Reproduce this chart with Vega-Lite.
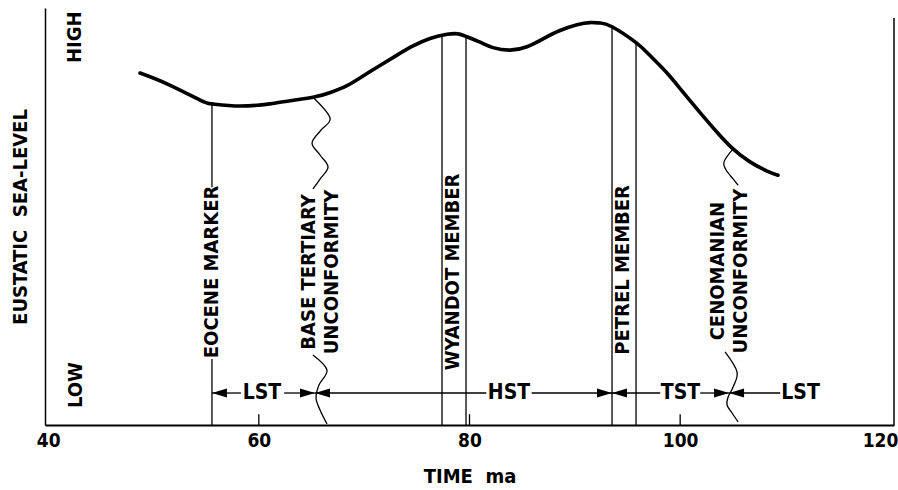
{
  "$schema": "https://vega.github.io/schema/vega-lite/v6.json",
  "autosize": "none",
  "width": 849,
  "height": 417,
  "padding": {"left": 45, "top": 8, "right": 4, "bottom": 65},
  "background": "white",
  "config": {
    "view": {"stroke": null},
    "font": "DejaVu Sans Condensed, DejaVu Sans, sans-serif",
    "text": {"font": "DejaVu Sans Condensed, DejaVu Sans, sans-serif", "fontWeight": "bold", "color": "black"}
  },
  "datasets": {
    "sealevel": [
      {"t": 48.72, "v": 84.4}, {"t": 51.28, "v": 81.8}, {"t": 54.42, "v": 77.9},
      {"t": 55.55, "v": 77.0}, {"t": 58.21, "v": 76.5}, {"t": 61.06, "v": 77.0},
      {"t": 62.01, "v": 77.4}, {"t": 65.14, "v": 78.6}, {"t": 66.76, "v": 79.7},
      {"t": 68.37, "v": 81.4}, {"t": 69.89, "v": 83.7}, {"t": 71.5, "v": 86.2},
      {"t": 73.12, "v": 88.7}, {"t": 74.64, "v": 90.9}, {"t": 76.25, "v": 92.7},
      {"t": 77.87, "v": 93.7}, {"t": 78.91, "v": 93.8}, {"t": 79.67, "v": 93.2},
      {"t": 81.0, "v": 91.8}, {"t": 82.23, "v": 90.5}, {"t": 83.85, "v": 89.9},
      {"t": 85.46, "v": 90.7}, {"t": 86.98, "v": 92.6}, {"t": 88.59, "v": 94.6},
      {"t": 90.21, "v": 96.0}, {"t": 91.44, "v": 96.5}, {"t": 92.39, "v": 96.4},
      {"t": 93.53, "v": 95.5}, {"t": 95.81, "v": 91.7}, {"t": 97.14, "v": 88.6},
      {"t": 98.75, "v": 84.4}, {"t": 100.27, "v": 79.8}, {"t": 101.89, "v": 74.9},
      {"t": 103.5, "v": 70.2}, {"t": 105.02, "v": 66.2}, {"t": 106.63, "v": 63.1},
      {"t": 108.25, "v": 60.9}, {"t": 109.29, "v": 59.9}
    ],
    "markers": [
      {"name": "Eocene marker", "t": 55.55, "v": 57.0, "v2": 77.0},
      {"name": "Eocene marker", "t": 55.55, "v": 0, "v2": 15.8},
      {"name": "Wyandot base", "t": 77.39, "v": 0, "v2": 93.5},
      {"name": "Wyandot top", "t": 79.67, "v": 0, "v2": 93.2},
      {"name": "Petrel base", "t": 93.53, "v": 0, "v2": 95.5},
      {"name": "Petrel top", "t": 95.81, "v": 0, "v2": 91.7}
    ],
    "frame": [
      {"t": 120.3, "v": 0, "v2": 97.6}
    ],
    "ticks": [
      {"t": 60, "v": 0, "v2": 2.6},
      {"t": 80, "v": 0, "v2": 2.6},
      {"t": 100, "v": 0, "v2": 2.6}
    ],
    "unconformities": [
      {"id": "bt-upper", "seq": 0, "t": 65.14, "v": 78.6},
      {"id": "bt-upper", "seq": 1, "t": 66.76, "v": 73.62},
      {"id": "bt-upper", "seq": 2, "t": 65.9, "v": 70.74},
      {"id": "bt-upper", "seq": 3, "t": 65.05, "v": 67.63},
      {"id": "bt-upper", "seq": 4, "t": 65.81, "v": 64.75},
      {"id": "bt-upper", "seq": 5, "t": 66.57, "v": 61.87},
      {"id": "bt-upper", "seq": 6, "t": 65.81, "v": 58.99},
      {"id": "bt-upper", "seq": 7, "t": 65.14, "v": 56.6},
      {"id": "bt-lower", "seq": 0, "t": 65.14, "v": 16.79},
      {"id": "bt-lower", "seq": 1, "t": 66.47, "v": 13.19},
      {"id": "bt-lower", "seq": 2, "t": 65.71, "v": 9.59},
      {"id": "bt-lower", "seq": 3, "t": 65.43, "v": 6.47},
      {"id": "bt-lower", "seq": 4, "t": 65.81, "v": 3.6},
      {"id": "bt-lower", "seq": 5, "t": 66.47, "v": 0.24},
      {"id": "cen-upper", "seq": 0, "t": 105.02, "v": 66.2},
      {"id": "cen-upper", "seq": 1, "t": 104.16, "v": 63.1},
      {"id": "cen-upper", "seq": 2, "t": 104.35, "v": 61.2},
      {"id": "cen-upper", "seq": 3, "t": 105.02, "v": 59.0},
      {"id": "cen-upper", "seq": 4, "t": 105.5, "v": 57.5},
      {"id": "cen-lower", "seq": 0, "t": 104.26, "v": 17.51},
      {"id": "cen-lower", "seq": 1, "t": 105.4, "v": 12.71},
      {"id": "cen-lower", "seq": 2, "t": 105.02, "v": 9.11},
      {"id": "cen-lower", "seq": 3, "t": 104.55, "v": 6.71},
      {"id": "cen-lower", "seq": 4, "t": 104.45, "v": 4.8},
      {"id": "cen-lower", "seq": 5, "t": 104.93, "v": 2.88},
      {"id": "cen-lower", "seq": 6, "t": 105.5, "v": 0.72}
    ],
    "tractLines": [
      {"t": 55.55, "t2": 58.3, "v": 7.67},
      {"t": 62.4, "t2": 65.33, "v": 7.67},
      {"t": 65.33, "t2": 81.6, "v": 7.67},
      {"t": 85.9, "t2": 93.53, "v": 7.67},
      {"t": 93.53, "t2": 98.1, "v": 7.67},
      {"t": 101.9, "t2": 104.64, "v": 7.67},
      {"t": 104.64, "t2": 109.5, "v": 7.67}
    ],
    "arrowsLeft": [
      {"t": 55.55, "v": 7.67}, {"t": 65.33, "v": 7.67},
      {"t": 93.53, "v": 7.67}, {"t": 104.64, "v": 7.67}
    ],
    "arrowsRight": [
      {"t": 65.33, "v": 7.67}, {"t": 93.53, "v": 7.67}, {"t": 104.64, "v": 7.67}
    ],
    "tracts": [
      {"t": 60.3, "v": 7.67, "label": "LST"},
      {"t": 83.75, "v": 7.67, "label": "HST"},
      {"t": 100.03, "v": 7.67, "label": "TST"},
      {"t": 111.43, "v": 7.67, "label": "LST"}
    ],
    "horizons": [
      {"t": 55.55, "v": 36.7, "label": "EOCENE MARKER"},
      {"t": 64.72, "v": 36.7, "label": "BASE TERTIARY\nUNCONFORMITY"},
      {"t": 78.48, "v": 36.7, "label": "WYANDOT MEMBER"},
      {"t": 94.62, "v": 37.2, "label": "PETREL MEMBER"},
      {"t": 103.55, "v": 36.9, "label": "CENOMANIAN\nUNCONFORMITY"}
    ],
    "levels": [
      {"t": 42.55, "v": 93.0, "label": "HIGH"},
      {"t": 42.64, "v": 9.6, "label": "LOW"}
    ]
  },
  "encoding": {
    "x": {
      "field": "t", "type": "quantitative",
      "scale": {"domain": [39.7, 120.3], "nice": false, "zero": false},
      "axis": {
        "values": [40, 60, 80, 100, 120],
        "grid": false, "ticks": false,
        "domainColor": "black", "domainWidth": 2,
        "labelFont": "DejaVu Sans Condensed, DejaVu Sans, sans-serif",
        "labelFontSize": 19, "labelFontWeight": "bold", "labelColor": "black",
        "labelPadding": 6, "labelOverlap": false, "labelFlush": false,
        "labelAlign": {"condition": {"test": "datum.value >= 120", "value": "right"}, "value": "center"},
        "labelOffset": {"condition": {"test": "datum.value >= 120", "value": 7}, "value": 0},
        "title": "TIME\u00a0\u00a0ma",
        "titleFont": "DejaVu Sans Condensed, DejaVu Sans, sans-serif",
        "titleFontSize": 20, "titleFontWeight": "bold", "titleColor": "black",
        "titlePadding": 16
      }
    },
    "y": {
      "field": "v", "type": "quantitative",
      "scale": {"domain": [0, 100], "nice": false},
      "axis": {
        "grid": false, "ticks": false, "labels": false,
        "domainColor": "black", "domainWidth": 1.5,
        "title": "EUSTATIC\u00a0 SEA-LEVEL",
        "titleFont": "DejaVu Sans Condensed, DejaVu Sans, sans-serif",
        "titleFontSize": 20, "titleFontWeight": "bold", "titleColor": "black",
        "titlePadding": 15
      }
    }
  },
  "layer": [
    {
      "data": {"name": "ticks"},
      "mark": {"type": "rule", "color": "black", "strokeWidth": 1.3},
      "encoding": {"y2": {"field": "v2"}}
    },
    {
      "data": {"name": "markers"},
      "mark": {"type": "rule", "color": "black", "strokeWidth": 1.3},
      "encoding": {"y2": {"field": "v2"}}
    },
    {
      "data": {"name": "frame"},
      "mark": {"type": "rule", "color": "black", "strokeWidth": 1.5},
      "encoding": {"y2": {"field": "v2"}}
    },
    {
      "data": {"name": "unconformities"},
      "mark": {"type": "line", "color": "black", "strokeWidth": 1.3, "interpolate": "cardinal"},
      "encoding": {
        "detail": {"field": "id"},
        "order": {"field": "seq", "type": "quantitative"}
      }
    },
    {
      "data": {"name": "sealevel"},
      "mark": {"type": "line", "color": "black", "strokeWidth": 3.6, "strokeCap": "round", "interpolate": "natural"},
      "encoding": {}
    },
    {
      "data": {"name": "tractLines"},
      "mark": {"type": "rule", "color": "black", "strokeWidth": 1.3},
      "encoding": {"x2": {"field": "t2"}}
    },
    {
      "data": {"name": "arrowsLeft"},
      "mark": {"type": "point", "shape": "M0,0L2,-0.6L2,0.6Z", "filled": true, "size": 225, "color": "black", "opacity": 1},
      "encoding": {}
    },
    {
      "data": {"name": "arrowsRight"},
      "mark": {"type": "point", "shape": "M0,0L-2,-0.6L-2,0.6Z", "filled": true, "size": 225, "color": "black", "opacity": 1},
      "encoding": {}
    },
    {
      "data": {"name": "horizons"},
      "mark": {"type": "text", "angle": 270, "align": "center", "baseline": "middle", "fontSize": 20, "lineBreak": "\n", "lineHeight": 23},
      "encoding": {"text": {"field": "label"}}
    },
    {
      "data": {"name": "tracts"},
      "mark": {"type": "text", "align": "center", "baseline": "middle", "fontSize": 21},
      "encoding": {"text": {"field": "label"}}
    },
    {
      "data": {"name": "levels"},
      "mark": {"type": "text", "angle": 270, "align": "center", "baseline": "middle", "fontSize": 20},
      "encoding": {"text": {"field": "label"}}
    }
  ]
}
